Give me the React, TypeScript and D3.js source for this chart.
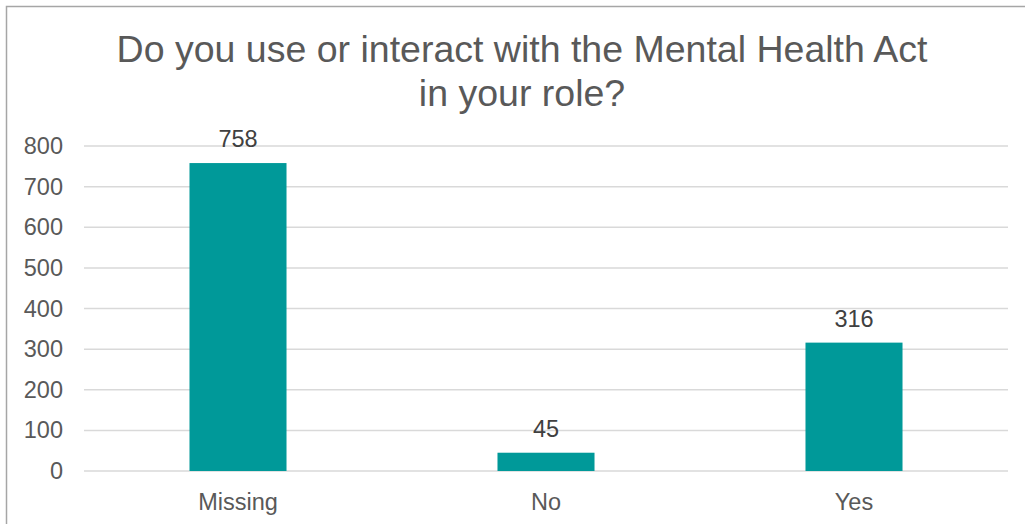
import React from "react";
import * as d3 from "d3";

const categories = ["Missing", "No", "Yes"];
const counts = [758, 45, 316];
const yTicks = [0, 100, 200, 300, 400, 500, 600, 700, 800];
const titleLines = ["Do you use or interact with the Mental Health Act", "in your role?"];

const W = 1025;
const H = 524;
const plot = { left: 84, right: 1008, top: 146, bottom: 471 };
const font = "'Liberation Sans', Arial, sans-serif";

export default function App() {
    const x = d3.scaleBand<string>()
        .domain(categories)
        .range([plot.left, plot.right])
        .padding(0);
    const y = d3.scaleLinear()
        .domain([0, 800])
        .range([plot.bottom, plot.top]);
    const barW = x.bandwidth() * 0.315;

    return (
        <svg width={W} height={H} style={{ position: "absolute", left: 0, top: 0 }}>
            <rect x={0} y={0} width={W} height={H} fill="#fff" />
            {/* chart border, only top and left show in the frame */}
            <rect x={6.5} y={6.5} width={W + 10} height={H + 10} fill="none" stroke="#a6a6a6" strokeWidth={1.5} />

            {titleLines.map((t, i) => (
                <text key={i} x={522} y={62 + i * 44} textAnchor="middle"
                    fontFamily={font} fontSize={37.5} fill="#595959">{t}</text>
            ))}

            {yTicks.map(v => (
                <g key={v}>
                    <line x1={plot.left} x2={plot.right} y1={y(v)} y2={y(v)} stroke="#d9d9d9" strokeWidth={1.5} />
                    <text x={63} y={y(v) + 8} textAnchor="end" fontFamily={font} fontSize={23.5} fill="#595959">{v}</text>
                </g>
            ))}

            {categories.map((c, i) => {
                const cx = (x(c) as number) + x.bandwidth() / 2;
                return (
                    <g key={c}>
                        <rect x={cx - barW / 2} y={y(counts[i])} width={barW} height={y(0) - y(counts[i])} fill="#009999" />
                        <text x={cx} y={y(counts[i]) - 16} textAnchor="middle" fontFamily={font} fontSize={23.5} fill="#404040">{counts[i]}</text>
                        <text x={cx} y={510} textAnchor="middle" fontFamily={font} fontSize={23.5} fill="#595959">{c}</text>
                    </g>
                );
            })}
        </svg>
    );
}
